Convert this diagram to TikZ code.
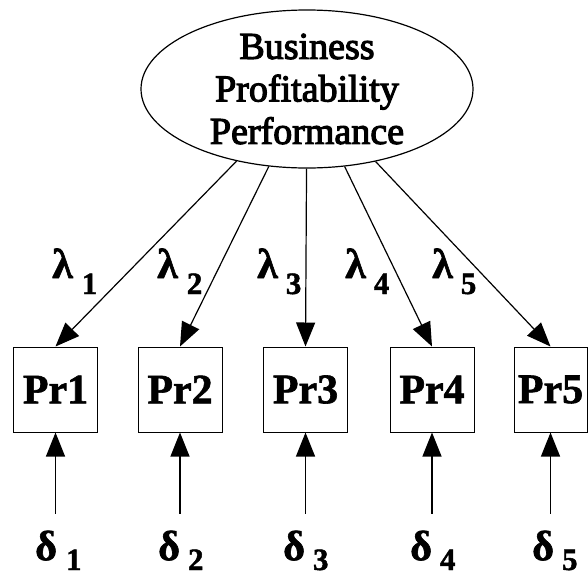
\documentclass[tikz,border=0pt]{standalone}
\usepackage{fontspec}
% Times-metric serif; the heavier faces are emboldened regular and bold
\setmainfont{Liberation Serif}
\newfontfamily\heavyfont{Liberation Serif}[FakeBold=3]
\newfontfamily\blackfont{Liberation Serif Bold}[FakeBold=1.5]
\usetikzlibrary{arrows.meta,calc,shapes.geometric}

% font sizes for the labels
\newcommand{\factorfont}{\heavyfont\fontsize{38}{42.5}\selectfont}
\newcommand{\itemfont}{\blackfont\fontsize{42}{42}\selectfont}
\newcommand{\greekfont}{\blackfont\fontsize{42}{42}\selectfont}
\newcommand{\indexfont}{\blackfont\fontsize{31}{31}\selectfont}

\tikzset{
  latent/.style={draw, line width=1.2pt, ellipse, minimum width=332pt, minimum height=158pt, inner sep=0pt, align=center, font=\factorfont},
  itembox/.style={draw, line width=1pt, minimum width=84pt, minimum height=85pt, inner sep=0pt, font=\itemfont},
  coef/.style={anchor=base west, inner sep=0pt},
  arr/.style={line width=1.2pt, -{Triangle[length=24pt,width=19pt]}},
}

\begin{document}
\begin{tikzpicture}[x=1pt,y=-1pt]
\useasboundingbox (0,0) rectangle (588,576);

% latent factor
\node[latent] (bpp) at (307,89) {Business\\Profitability\\Performance};

% observed indicators
\node[itembox] (pr1) at (55.5,389.5) {Pr1};
\node[itembox] (pr2) at (180,389.5) {Pr2};
\node[itembox] (pr3) at (305.5,389.5) {Pr3};
\node[itembox] (pr4) at (432,389.5) {Pr4};
\node[itembox, minimum width=73pt] (pr5) at (550.5,389.5) {Pr5};

% factor loadings
\foreach \i in {1,...,5}{
  \draw[arr] (bpp) -- (pr\i.north);
}
\node[coef] (lam1) at (52,278) {\greekfont λ\hspace{9pt}\raisebox{-16pt}{\indexfont 1}};
\node[coef] (lam2) at (157,278) {\greekfont λ\hspace{9pt}\raisebox{-16pt}{\indexfont 2}};
\node[coef] (lam3) at (257,278) {\greekfont λ\hspace{8pt}\raisebox{-16pt}{\indexfont 3}};
\node[coef] (lam4) at (345,278) {\greekfont λ\hspace{8pt}\raisebox{-16pt}{\indexfont 4}};
\node[coef] (lam5) at (432,278) {\greekfont λ\hspace{8pt}\raisebox{-16pt}{\indexfont 5}};

% measurement errors
\foreach \i in {1,...,5}{
  \coordinate (e\i) at ($(pr\i.south)+(0,81)$);
  \draw[arr] (e\i) -- (pr\i.south);
}
\node[coef] (del1) at (35,560) {\greekfont δ\hspace{9pt}\raisebox{-10pt}{\indexfont 1}};
\node[coef] (del2) at (158,560) {\greekfont δ\hspace{8pt}\raisebox{-10pt}{\indexfont 2}};
\node[coef] (del3) at (283,560) {\greekfont δ\hspace{8pt}\raisebox{-10pt}{\indexfont 3}};
\node[coef] (del4) at (410,560) {\greekfont δ\hspace{8pt}\raisebox{-10pt}{\indexfont 4}};
\node[coef] (del5) at (532,560) {\greekfont δ\hspace{8pt}\raisebox{-10pt}{\indexfont 5}};
\end{tikzpicture}
\end{document}
